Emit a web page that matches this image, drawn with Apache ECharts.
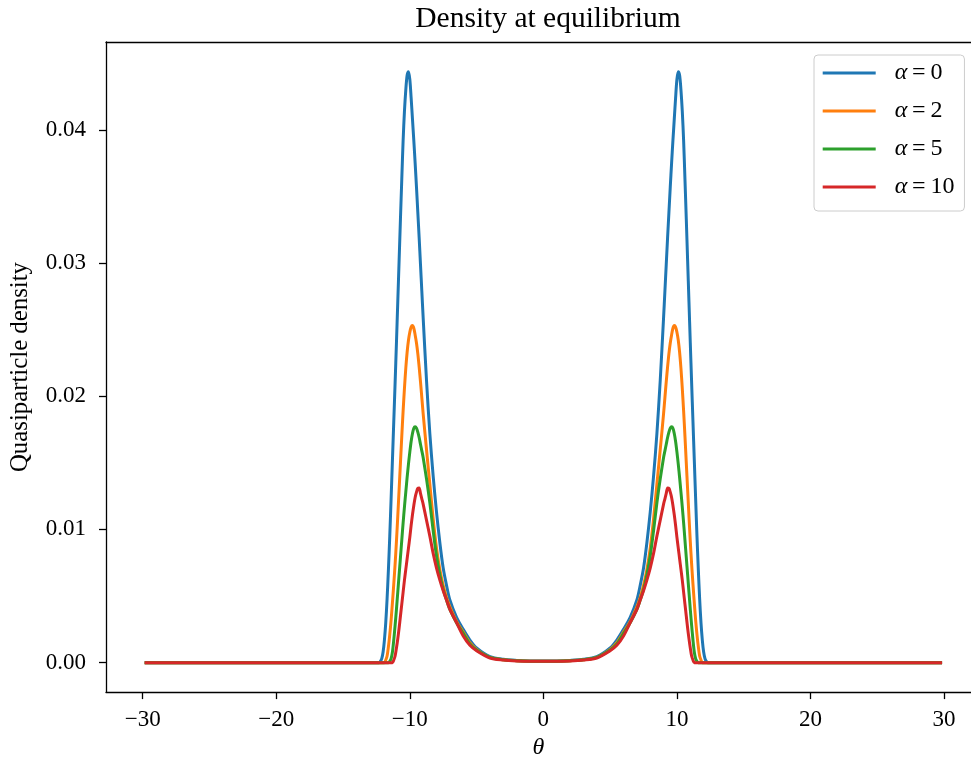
<!DOCTYPE html>
<html><head><meta charset="utf-8">
<script src="https://cdn.jsdelivr.net/npm/echarts@6/dist/echarts.min.js"></script>
<style>html,body{margin:0;padding:0;background:#fff}#c{width:971px;height:765px}</style>
</head><body><div id="c"></div>
<script>
// theta grid (x values)
const theta = [-29.85,-14,-12.5,-12.3,-12.2,-12.1,-12,-11.9,-11.8,-11.7,-11.6,-11.5,-11.4,-11.3,-11.2,-11.1,-11,-10.9,-10.8,-10.7,-10.6,-10.5,-10.4,-10.3,-10.2,-10.1,-10,-9.9,-9.8,-9.7,-9.6,-9.5,-9.4,-9.3,-9.2,-9.1,-9,-8.75,-8.5,-8.25,-8,-7.75,-7.5,-7.25,-7,-6.5,-6,-5.5,-5,-4,-3,-2,-1,0,1,2,3,4,5,5.5,6,6.5,7,7.25,7.5,7.75,8,8.25,8.5,8.75,9,9.1,9.2,9.3,9.4,9.5,9.6,9.7,9.8,9.9,10,10.1,10.2,10.3,10.4,10.5,10.6,10.7,10.8,10.9,11,11.1,11.2,11.3,11.4,11.5,11.6,11.7,11.8,11.9,12,12.1,12.2,12.3,12.5,14,29.85];

// alpha = 0
const densAlpha0 = [0,0,0,0,0.0001,0.0003,0.0008,0.0017,0.0030,0.0048,0.0070,0.0095,0.0123,0.0152,0.0181,0.0210,0.0240,0.0271,0.0302,0.0333,0.0363,0.0392,0.0414,0.0430,0.0441,0.04436,0.0438,0.0424,0.0408,0.0392,0.0375,0.0357,0.0338,0.0319,0.0299,0.0279,0.0259,0.0212,0.0172,0.0140,0.0113,0.0090,0.0071,0.0058,0.0047,0.0034,0.0025,0.0017,0.0011,0.00045,0.00025,0.00017,0.00013,
  0.00012,
  0.00013,0.00017,0.00025,0.00045,0.0011,0.0017,0.0025,0.0034,0.0047,0.0058,0.0071,0.0090,0.0113,0.0140,0.0172,0.0212,0.0259,0.0279,0.0299,0.0319,0.0338,0.0357,0.0375,0.0392,0.0408,0.0424,0.0438,0.04436,0.0441,0.0430,0.0414,0.0392,0.0363,0.0333,0.0302,0.0271,0.0240,0.0210,0.0181,0.0152,0.0123,0.0095,0.0070,0.0048,0.0030,0.0017,0.0008,0.0003,0.0001,0,0,0,0];

// alpha = 2
const densAlpha2 = [0,0,0,0,0,0,0,0,0.0002,0.0005,0.0012,0.0021,0.0032,0.0045,0.0059,0.0074,0.0091,0.0110,0.0130,0.0150,0.0170,0.0189,0.0206,0.0221,0.0233,0.0242,0.0248,0.0252,0.0253,0.0251,0.0246,0.0240,0.0232,0.0222,0.0211,0.0199,0.0187,0.0160,0.0134,0.0108,0.0086,0.0070,0.0058,0.0049,0.0042,0.0031,0.0023,0.0015,0.0010,0.0004,0.00022,0.00015,0.00011,
  0.0001,
  0.00011,0.00015,0.00022,0.0004,0.0010,0.0015,0.0023,0.0031,0.0042,0.0049,0.0058,0.0070,0.0086,0.0108,0.0134,0.0160,0.0187,0.0199,0.0211,0.0222,0.0232,0.0240,0.0246,0.0251,0.0253,0.0252,0.0248,0.0242,0.0233,0.0221,0.0206,0.0189,0.0170,0.0150,0.0130,0.0110,0.0091,0.0074,0.0059,0.0045,0.0032,0.0021,0.0012,0.0005,0.0002,0,0,0,0,0,0,0,0];

// alpha = 5
const densAlpha5 = [0,0,0,0,0,0,0,0,0,0,0,0.0001,0.0003,0.0008,0.0017,0.0028,0.0040,0.0053,0.0066,0.0079,0.0092,0.0105,0.0117,0.0128,0.0139,0.0149,0.0158,0.0166,0.0172,0.0176,0.0177,0.0176,0.0173,0.0169,0.0164,0.0159,0.0154,0.0138,0.0120,0.0099,0.0080,0.0066,0.0055,0.0047,0.0040,0.0030,0.0022,0.0014,0.00095,0.0004,0.00022,0.00015,0.00011,
  0.0001,
  0.00011,0.00015,0.00022,0.0004,0.00095,0.0014,0.0022,0.0030,0.0040,0.0047,0.0055,0.0066,0.0080,0.0099,0.0120,0.0138,0.0154,0.0159,0.0164,0.0169,0.0173,0.0176,0.0177,0.0176,0.0172,0.0166,0.0158,0.0149,0.0139,0.0128,0.0117,0.0105,0.0092,0.0079,0.0066,0.0053,0.0040,0.0028,0.0017,0.0008,0.0003,0.0001,0,0,0,0,0,0,0,0,0,0,0];

// alpha = 10
const densAlpha10 = [0,0,0,0,0,0,0,0,0,0,0,0,0,0,0.0002,0.0005,0.0011,0.0018,0.0026,0.0035,0.0044,0.0053,0.0062,0.0070,0.0078,0.0086,0.0094,0.0103,0.0111,0.0118,0.0124,0.0128,0.01308,0.01312,0.0127,0.0123,0.0119,0.0107,0.0095,0.0082,0.0071,0.0062,0.0054,0.0047,0.0040,0.0030,0.0020,0.0013,0.0009,0.00035,0.0002,0.00013,0.0001,
  0.0001,
  0.0001,0.00013,0.0002,0.00035,0.0009,0.0013,0.0020,0.0030,0.0040,0.0047,0.0054,0.0062,0.0071,0.0082,0.0095,0.0107,0.0119,0.0123,0.0127,0.01312,0.01308,0.0128,0.0124,0.0118,0.0111,0.0103,0.0094,0.0086,0.0078,0.0070,0.0062,0.0053,0.0044,0.0035,0.0026,0.0018,0.0011,0.0005,0.0002,0,0,0,0,0,0,0,0,0,0,0,0,0,0];

const alphaLabels = ['0','2','5','10'];
const seriesNames = ['α=0','α=2','α=5','α=10'];
const xTicks = [-30,-20,-10,0,10,20,30];
const yTicks = [0,0.01,0.02,0.03,0.04];
const allDens = [densAlpha0, densAlpha2, densAlpha5, densAlpha10];
const colors = ['#1f77b4','#ff7f0e','#2ca02c','#d62728'];
const FONT = '"Liberation Serif","Times New Roman",serif';
const X_MIN = -32.745, X_MAX = 32.016;

const chart = echarts.init(document.getElementById('c'), null, {renderer:'canvas'});
const series = allDens.map((d, k) => ({
  name: seriesNames[k],
  type: 'line',
  xAxisIndex: 0,
  data: theta.map((t, i) => [t, d[i]]),
  showSymbol: false,
  symbol: 'none',
  smooth: 0.3,
  clip: true,
  lineStyle: {color: colors[k], width: 3, join: 'round'},
  itemStyle: {color: colors[k]},
  emphasis: {disabled: true},
  z: 2 + k
}));

chart.setOption({
  animation: false,
  title: {
    text: 'Density at equilibrium', left: 543, top: -1, textAlign: 'center',
    textStyle: {fontFamily: FONT, fontSize: 29.5, fontWeight: 'normal', color: '#000'}
  },
  grid: {left: 105, top: 42, right: 0, height: 651, show: false},
  xAxis: [{
    type: 'value', min: X_MIN, max: X_MAX, position: 'bottom',
    name: 'θ', nameLocation: 'middle', nameGap: 43,
    nameTextStyle: {fontFamily: FONT, fontStyle: 'italic', fontSize: 24, color: '#000'},
    axisLine: {show: true, onZero: false, lineStyle: {color: '#000', width: 1.3}},
    splitLine: {show: false},
    axisTick: {show: true, customValues: xTicks, length: 7, lineStyle: {color: '#000', width: 1.3}},
    axisLabel: {customValues: xTicks, formatter: v => v < 0 ? '\u2212' + Math.abs(v) : String(v), fontFamily: FONT, fontSize: 23, color: '#000', margin: 16}
  }, {
    type: 'value', min: X_MIN, max: X_MAX, position: 'top',
    axisLine: {show: true, onZero: false, lineStyle: {color: '#000', width: 1.3}},
    splitLine: {show: false}, axisTick: {show: false}, axisLabel: {show: false}
  }],
  yAxis: {
    type: 'value', min: -0.00221, max: 0.04659,
    name: 'Quasiparticle density', nameLocation: 'middle', nameGap: 73,
    nameTextStyle: {fontFamily: FONT, fontSize: 24.8, color: '#000'},
    axisLine: {show: true, onZero: false, lineStyle: {color: '#000', width: 1.3}},
    splitLine: {show: false},
    axisTick: {show: true, customValues: yTicks, length: 7, lineStyle: {color: '#000', width: 1.3}},
    axisLabel: {customValues: yTicks, formatter: v => v.toFixed(2), fontFamily: FONT, fontSize: 23, color: '#000', margin: 20}
  },
  legend: {
    orient: 'vertical', left: 814, top: 55,
    padding: [5, 10, 11, 8.7], itemGap: 12, itemWidth: 53, itemHeight: 3, icon: 'rect',
    selectedMode: false,
    backgroundColor: 'rgba(255,255,255,0.8)', borderColor: '#cccccc', borderWidth: 1, borderRadius: 4,
    data: seriesNames,
    formatter: name => '{a|α}{b|\u2009=\u2009' + alphaLabels[seriesNames.indexOf(name)] + '}',
    textStyle: {
      fontFamily: FONT, fontSize: 24, color: '#000', lineHeight: 26, padding: [0, 0, 0, 14],
      rich: {
        a: {fontFamily: FONT, fontStyle: 'italic', fontSize: 24, lineHeight: 26, color: '#000'},
        b: {fontFamily: FONT, fontSize: 24, lineHeight: 26, color: '#000'}
      }
    }
  },
  series: series
});
</script></body></html>
